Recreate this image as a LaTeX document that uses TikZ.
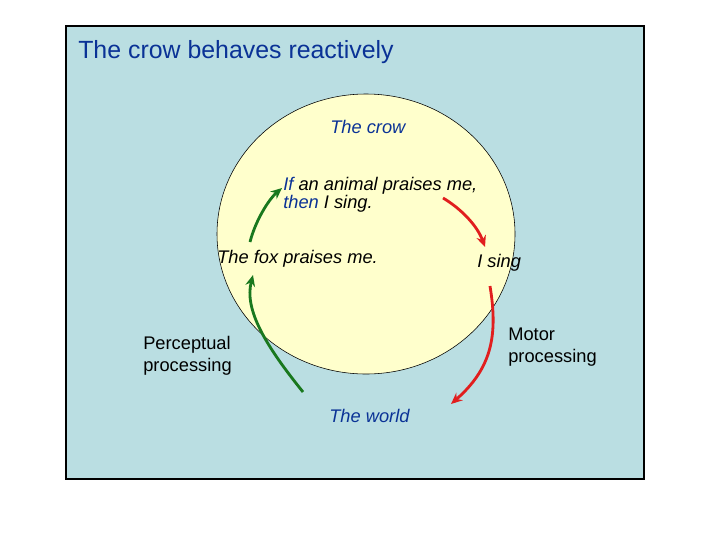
\documentclass[tikz,border=0pt]{standalone}
\usepackage{fontspec}
\setmainfont{Liberation Sans}
\usetikzlibrary{math,arrows.meta}
\definecolor{slideblue}{RGB}{186,222,226}
\definecolor{crowyellow}{RGB}{255,255,204}
\definecolor{textblue}{RGB}{10,50,150}
\definecolor{percgreen}{RGB}{25,120,30}
\definecolor{motorred}{RGB}{225,30,30}

\begin{document}
\begin{tikzpicture}[x=0.025cm,y=-0.025cm,
    txt/.style={anchor=base west, inner sep=0pt, align=left, font=\fontsize{13}{15}\selectfont},
    itx/.style={txt, font=\itshape\fontsize{13}{15}\selectfont},
    flow/.style={line width=2pt, -{Stealth[length=8pt,width=7pt]}}]
      \tikzmath{\cx = 366; \cy = 234; \rx = 149; \ry = 140;}
      \useasboundingbox (0,0) rectangle (720,540);
      \draw[fill=slideblue, line width=0.8pt] (66,26) rectangle (644,479);
      \draw[fill=crowyellow, line width=0.4pt] (\cx,\cy) ellipse [x radius=\rx, y radius=\ry];
      % multi-line nodes sit on the baseline of their last line
      \node[txt, font=\fontsize{17.7}{20}\selectfont, text=textblue] (title) at (78,58) {The crow behaves reactively};
      \node[itx, text=textblue] (crow) at (330,133) {The crow};
      \node[itx, font=\itshape\fontsize{13}{12.8}\selectfont] (rule) at (283,208) {\textcolor{textblue}{If} an animal praises me,\\\textcolor{textblue}{then} I sing.};
      \node[itx] (fox) at (217,263) {The fox praises me.};
      \node[itx] (sing) at (477,267) {I sing};
      \node[txt] (percept) at (143,371) {Perceptual\\processing};
      \node[txt] (motor) at (508,362) {Motor\\processing};
      \node[itx, text=textblue] (world) at (329,422) {The world};
      \coordinate (fox-top) at (250,242);
      \coordinate (rule-in) at (282,188);
      \coordinate (rule-out) at (443,198);
      \coordinate (sing-in) at (485,247);
      \coordinate (sing-out) at (490,286);
      \coordinate (world-in) at (451,404);
      \coordinate (world-out) at (303,392);
      \coordinate (fox-in) at (253,275);
      \draw[flow, percgreen] (world-out) .. controls (266,346) and (244,310) .. (fox-in);
      \draw[flow, percgreen] (fox-top) .. controls (255,222) and (268,200) .. (rule-in);
      \draw[flow, motorred] (rule-out) .. controls (460,208) and (477,225) .. (sing-in);
      \draw[flow, motorred] (sing-out) .. controls (498,335) and (492,368) .. (world-in);
    \end{tikzpicture}
\end{document}
